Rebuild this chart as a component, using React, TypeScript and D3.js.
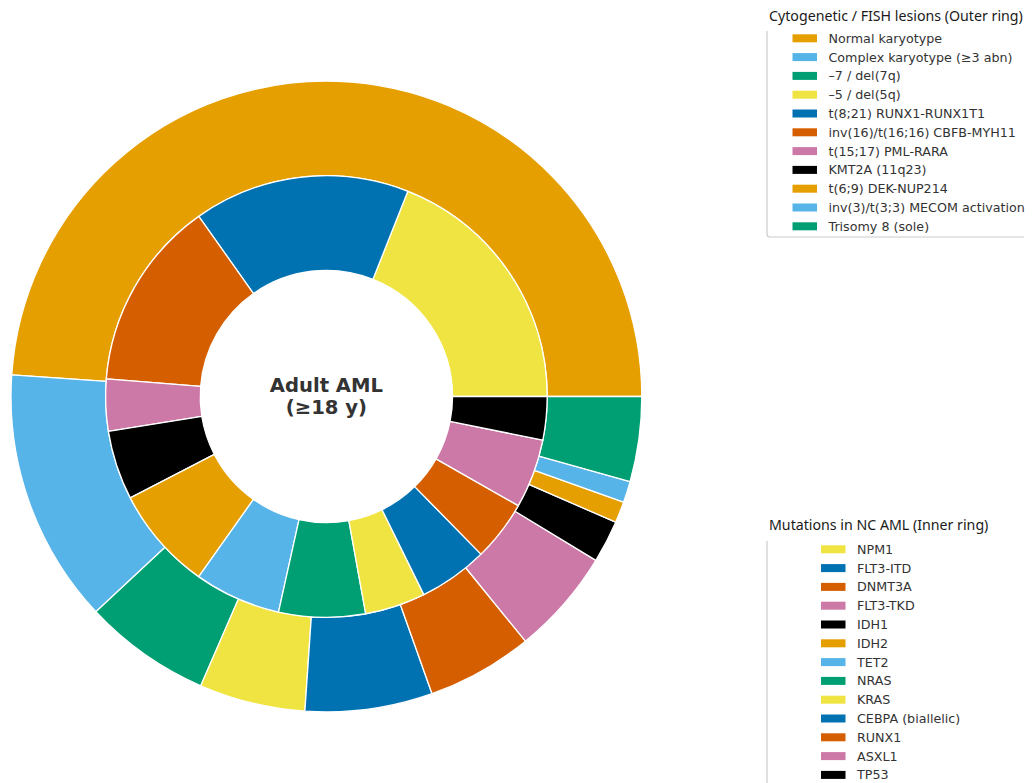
import React from 'react';
import * as d3 from 'd3';

const outerLabels = [
  'Normal karyotype',
  'Complex karyotype (≥3 abn)',
  '–7 / del(7q)',
  '–5 / del(5q)',
  't(8;21) RUNX1-RUNX1T1',
  'inv(16)/t(16;16) CBFB-MYH11',
  't(15;17) PML-RARA',
  'KMT2A (11q23)',
  't(6;9) DEK-NUP214',
  'inv(3)/t(3;3) MECOM activation',
  'Trisomy 8 (sole)',
];
const outerValues = [45, 12, 6, 5, 6, 5, 5, 2, 1, 1, 4];

const innerLabels = [
  'NPM1', 'FLT3-ITD', 'DNMT3A', 'FLT3-TKD', 'IDH1', 'IDH2', 'TET2',
  'NRAS', 'KRAS', 'CEBPA (biallelic)', 'RUNX1', 'ASXL1', 'TP53',
];
const innerValues = [30, 25, 22, 6, 8, 12, 10, 10, 7, 8, 7, 8, 5];

const palette = ['#E69F00', '#56B4E9', '#009E73', '#F0E442', '#0072B2', '#D55E00', '#CC79A7', '#000000'];
const outerColors = outerValues.map((_, i) => palette[i % 8]);
const innerColors = innerValues.map((_, i) => palette[(i + 3) % 8]);

const centerLines = ['Adult AML', '(≥18 y)'];
const legendTitles = ['Cytogenetic / FISH lesions (Outer ring)', 'Mutations in NC AML (Inner ring)'];

const W = 1032;
const H = 783;
const cx = 326.4;
const cy = 396.5;
const R = 315.4;

export default function App() {
  const pie = d3
    .pie<number>()
    .sort(null)
    .startAngle(Math.PI / 2)
    .endAngle(Math.PI / 2 - 2 * Math.PI);

  const outerArc = d3.arc<d3.PieArcDatum<number>>().innerRadius(R * 0.7).outerRadius(R);
  const innerArc = d3.arc<d3.PieArcDatum<number>>().innerRadius(R * 0.4).outerRadius(R * 0.7);

  const outerData = pie(outerValues);
  const innerData = pie(innerValues);

  const legendFont = 'DejaVu Sans';
  const entryFs = 12.7;
  const titleFs = 14.2;
  const rowH = 18.8;

  const leg1 = { titleY: 16, firstRow: 38.3, patchX: 792.5, textX: 828.5, left: 767, top: 31, bottom: 237, right: 1024 };
  const leg2 = { titleY: 525, firstRow: 549.3, patchX: 821, textX: 857, left: 767, top: 541, bottom: 800 };

  return (
    <svg
      width={W}
      height={H}
      style={{ position: 'absolute', left: 0, top: 0, background: '#fff' }}
      xmlns="http://www.w3.org/2000/svg"
    >
      <rect x={0} y={0} width={W} height={H} fill="#fff" />
      <g transform={`translate(${cx},${cy})`}>
        {outerData.map((d, i) => (
          <path key={'o' + i} d={outerArc(d) || ''} fill={outerColors[i]} stroke="#fff" strokeWidth={1.3} strokeLinejoin="round" />
        ))}
        {innerData.map((d, i) => (
          <path key={'i' + i} d={innerArc(d) || ''} fill={innerColors[i]} stroke="#fff" strokeWidth={1.3} strokeLinejoin="round" />
        ))}
        {centerLines.map((t, i) => (
          <text
            key={t}
            x={0}
            y={-4.5 + i * 21.5}
            textAnchor="middle"
            fontFamily="DejaVu Sans"
            fontWeight="bold"
            fontSize={19.6}
            fill="#333333"
          >
            {t}
          </text>
        ))}
      </g>

      {/* Legend 1 */}
      <text x={769} y={leg1.titleY + 5} fontFamily="Noto Sans" fontSize={titleFs} fill="#1a1a1a">
        {legendTitles[0]}
      </text>
      <path
        d={`M${leg1.left},${leg1.top} L${leg1.left},${leg1.bottom - 3} Q${leg1.left},${leg1.bottom} ${leg1.left + 3},${leg1.bottom} L${leg1.right},${leg1.bottom}`}
        fill="none"
        stroke="#cccccc"
        strokeWidth={1.2}
      />
      {outerLabels.map((lab, i) => {
        const y = leg1.firstRow + i * rowH;
        return (
          <g key={'l1' + i}>
            <rect x={leg1.patchX} y={y - 4} width={24.5} height={8} fill={outerColors[i]} />
            <text x={leg1.textX} y={y + 4.5} fontFamily={legendFont} fontSize={entryFs} fill="#333333">
              {lab}
            </text>
          </g>
        );
      })}

      {/* Legend 2 */}
      <text x={769} y={leg2.titleY + 5} fontFamily="Noto Sans" fontSize={titleFs} fill="#1a1a1a">
        {legendTitles[1]}
      </text>
      <line x1={leg2.left} y1={leg2.top} x2={leg2.left} y2={leg2.bottom} stroke="#cccccc" strokeWidth={1.2} />
      {innerLabels.map((lab, i) => {
        const y = leg2.firstRow + i * rowH;
        return (
          <g key={'l2' + i}>
            <rect x={leg2.patchX} y={y - 4} width={24.5} height={8} fill={innerColors[i]} />
            <text x={leg2.textX} y={y + 4.5} fontFamily={legendFont} fontSize={entryFs} fill="#333333">
              {lab}
            </text>
          </g>
        );
      })}
    </svg>
  );
}
